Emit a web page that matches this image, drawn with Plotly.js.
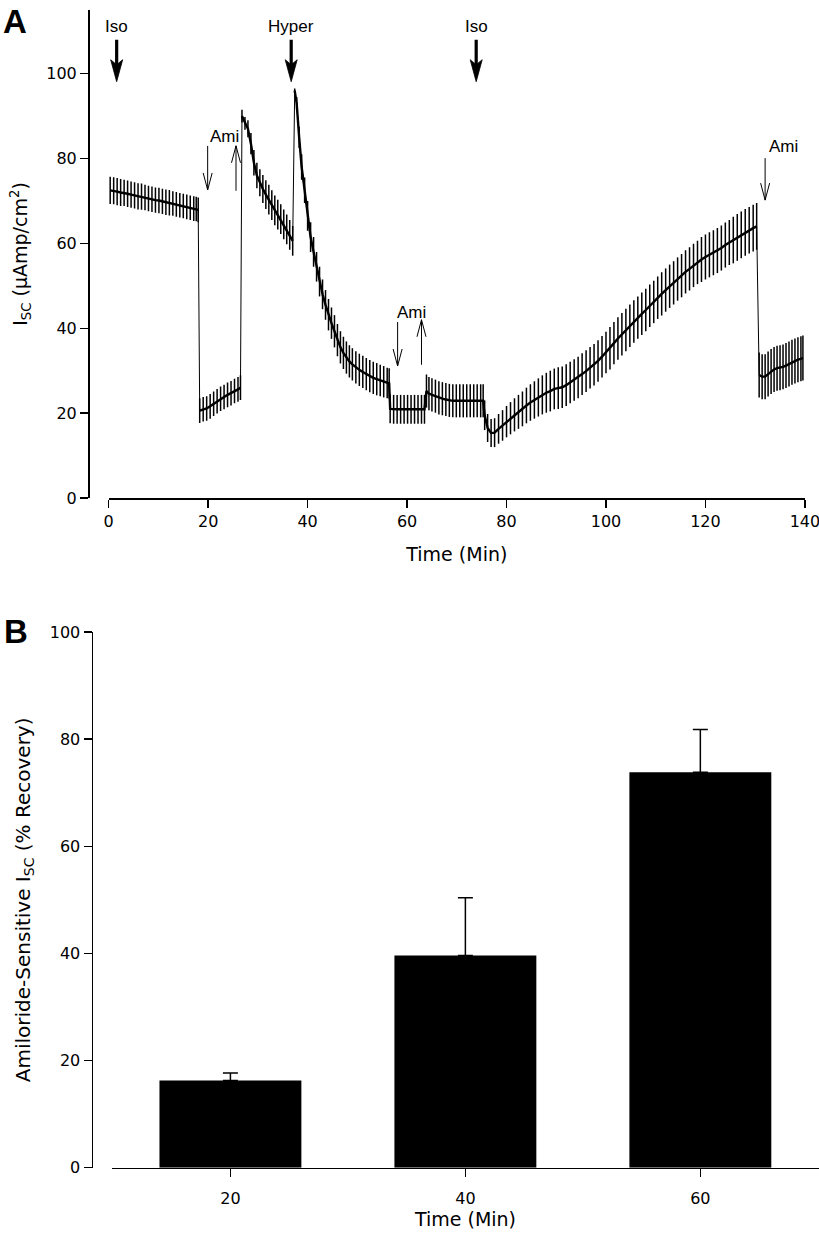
<!DOCTYPE html>
<html>
<head>
<meta charset="utf-8">
<script src="https://cdn.plot.ly/plotly-3.0.1.min.js"></script>
<style>html,body{margin:0;padding:0;background:#fff}#chart{width:819px;height:1238px}</style>
</head>
<body>
<div id="chart"></div>
<script>
// ---------- Panel A : Isc time course (mean ± SEM) ----------
const timeMin = [
  0.3,1.0,1.7,2.4,3.1,3.8,4.5,5.2,5.9,6.6,7.3,8.0,8.7,9.4,10.1,10.8,11.5,12.2,12.9,13.6,14.3,15.0,15.7,16.4,17.1,17.6,18.0,
  18.3,19.0,19.7,20.4,21.1,21.8,22.5,23.2,23.9,24.6,25.3,26.0,26.5,
  26.8,27.4,28.0,28.6,29.2,29.8,30.4,31.0,31.6,32.2,32.8,33.4,34.0,34.6,35.2,35.8,36.4,37.0,
  37.4,37.8,38.3,38.8,39.4,40.0,40.6,41.2,41.8,42.4,43.0,43.6,44.2,44.8,45.4,46.0,46.6,47.2,47.8,48.4,49.0,49.7,50.4,51.1,51.8,52.5,53.2,53.9,54.6,55.3,56.0,56.4,
  56.6,57.3,58.0,58.7,59.4,60.1,60.8,61.5,62.2,62.9,63.5,
  63.9,64.4,65.0,65.7,66.4,67.1,67.8,68.5,69.2,69.9,70.6,71.3,72.0,72.7,73.4,74.1,74.8,75.3,
  75.6,76.2,76.9,77.6,78.4,79.2,80.0,80.8,81.6,82.4,83.2,84.0,84.8,85.6,86.4,87.2,88.0,88.8,89.6,90.4,
  91.2,92.0,92.8,93.6,94.4,95.2,96.0,96.8,97.6,98.4,99.2,100.0,
  100.8,101.6,102.4,103.2,104.0,104.8,105.6,106.4,107.2,108.0,108.8,109.6,110.4,
  111.2,112.0,112.8,113.6,114.4,115.2,116.0,116.8,117.6,118.4,
  119.2,120.0,120.8,121.6,122.4,123.2,124.0,124.8,
  125.6,126.4,127.2,128.0,128.8,129.6,130.3,
  130.8,131.4,132.0,132.6,133.2,133.8,134.4,135.0,135.6,136.2,136.8,137.4,138.0,138.6,139.2,139.6
];
const iscMean = [
  72.5,72.4,72.2,72.0,71.9,71.7,71.5,71.3,71.1,71.0,70.8,70.6,70.4,70.2,70.1,69.9,69.7,69.6,69.4,69.2,69.0,68.8,68.6,68.4,68.2,68.1,67.9,
  20.6,20.9,21.1,21.6,22.2,22.8,23.4,23.8,24.3,24.7,25.2,25.6,26.0,
  90.0,88.3,87.0,83.5,79.0,76.0,74.3,72.8,71.5,70.3,69.0,67.8,66.8,65.7,64.5,63.3,62.0,60.6,
  96.0,93.0,85.0,78.0,72.5,66.5,61.5,58.0,54.5,51.0,48.0,45.5,43.2,41.2,39.3,37.2,35.5,34.2,33.1,32.2,31.5,30.8,30.2,29.7,29.2,28.7,28.3,28.0,27.7,27.4,27.1,27.0,
  21.0,20.9,20.9,20.9,20.9,20.9,20.9,20.9,20.9,20.9,20.9,
  25.2,24.6,24.3,24.0,23.6,23.4,23.2,23.0,22.9,22.9,22.9,22.9,22.9,22.9,22.9,22.9,22.9,22.9,
  19.5,16.5,15.3,15.4,16.3,17.1,18.0,18.8,19.6,20.3,21.0,21.8,22.5,23.1,23.7,24.3,24.8,25.2,25.7,25.9,
  26.1,26.6,27.2,27.8,28.4,29.2,29.9,30.7,31.4,32.3,33.3,34.3,
  35.3,36.5,37.6,38.6,39.6,40.6,41.6,42.5,43.4,44.3,45.3,46.2,47.2,
  48.1,49.0,49.9,50.7,51.6,52.4,53.3,54.0,54.8,55.5,
  56.2,56.8,57.3,57.8,58.3,58.9,59.6,60.2,
  60.8,61.4,62.0,62.6,63.1,63.6,64.0,
  29.0,28.6,28.6,29.2,29.8,30.3,30.6,30.7,30.9,31.2,31.6,32.0,32.3,32.6,32.8,33.0
];
const iscSem = [
  3.2,3.2,3.2,3.2,3.1,3.1,3.1,3.1,3.1,3.1,3.0,3.0,3.0,3.0,3.0,3.0,3.0,3.0,2.9,2.9,2.9,2.9,2.9,2.9,2.9,2.9,2.9,
  2.9,2.9,2.9,2.9,2.9,2.9,2.9,2.9,2.9,2.9,2.9,2.9,2.9,
  1.5,1.5,2.0,2.5,3.0,3.0,3.2,3.3,3.4,3.5,3.5,3.5,3.5,3.5,3.5,3.5,3.5,3.5,
  0.5,1.5,2.5,3.0,3.0,3.5,3.5,3.5,3.5,3.5,3.5,3.5,3.7,3.7,3.8,3.8,3.8,3.8,3.8,3.8,3.8,3.8,3.8,3.8,3.8,3.8,3.8,3.8,3.7,3.7,3.6,3.6,
  3.4,3.4,3.4,3.4,3.4,3.4,3.4,3.4,3.4,3.4,3.4,
  3.9,3.9,3.9,3.9,3.9,3.9,3.9,3.9,3.9,3.9,3.9,3.9,3.9,3.9,3.9,3.9,3.9,3.9,
  3.5,3.3,3.3,3.4,3.5,3.6,3.7,3.8,3.9,4.0,4.1,4.2,4.3,4.4,4.5,4.6,4.7,4.8,4.8,4.9,
  4.9,4.9,4.9,4.9,4.9,4.9,4.9,4.9,4.9,4.9,4.9,4.9,
  5.0,5.0,5.0,5.0,5.0,5.0,5.0,5.0,5.0,5.0,5.0,5.0,5.0,
  5.1,5.1,5.1,5.1,5.1,5.1,5.1,5.1,5.1,5.1,
  5.3,5.3,5.3,5.3,5.3,5.3,5.3,5.3,
  5.5,5.5,5.5,5.5,5.5,5.5,5.5,
  5.3,5.3,5.3,5.3,5.3,5.3,5.3,5.3,5.3,5.3,5.3,5.3,5.3,5.3,5.3,5.3
];
// abrupt steps that the original draws with a thin connecting line
const thinSteps = [18.15, 26.65, 37.2, 130.55];
const aTickVals = [0, 20, 40, 60, 80, 100, 120, 140];
const aYTickVals = [0, 20, 40, 60, 80, 100];

// event markers in panel A
const eventLabels = ['Iso', 'Hyper', 'Iso'];
const eventTimes = [1.6, 36.7, 73.9];
const eventTipLevel = 98.1;
const eventLabelLevel = 111.0;
const amiLabelTimes = [23.2, 60.8, 135.6];
const amiLabelLevels = [85.2, 43.7, 82.8];
const amiDownTimes = [19.9, 58.1, 132.0];
const amiDownLevels = [72.6, 31.1, 70.2];
const amiUpTimes = [25.6, 62.9];
const amiUpLevels = [83.0, 42.0];

// ---------- Panel B : amiloride-sensitive Isc recovery ----------
const barTimes = ['20', '40', '60'];
const recovery = [16.3, 39.6, 73.8];
const recoverySem = [1.4, 10.8, 8.0];

// ---------- build ----------
const W = 819, H = 1238;
const thickX = [], thickY = [];
for (let i = 0; i < timeMin.length; i++) {
  if (i > 0 && thinSteps.some(b => timeMin[i - 1] < b && b < timeMin[i])) { thickX.push(null); thickY.push(null); }
  thickX.push(timeMin[i]); thickY.push(iscMean[i]);
}

const traces = [
  { x: timeMin, y: iscMean, type: 'scatter', mode: 'lines', xaxis: 'x', yaxis: 'y',
    line: { color: '#000', width: 1 }, hoverinfo: 'skip',
    error_y: { type: 'data', array: iscSem, visible: true, color: '#000', thickness: 1.5, width: 0 } },
  { x: thickX, y: thickY, type: 'scatter', mode: 'lines', xaxis: 'x', yaxis: 'y',
    line: { color: '#000', width: 2.4 }, connectgaps: false, hoverinfo: 'skip' },
  { x: barTimes, y: recovery, type: 'bar', xaxis: 'x2', yaxis: 'y2', width: 0.604,
    marker: { color: '#000', line: { width: 0 } },
    error_y: { type: 'data', symmetric: false, array: recoverySem, arrayminus: recoverySem.map(() => 0),
               visible: true, color: '#000', thickness: 1.5, width: 7.5 } }
];

const labelFont = { family: 'Liberation Sans, Arial, sans-serif', size: 17, color: '#000' };
const ann = [];
ann.push({ xref: 'paper', yref: 'paper', x: 15.5 / W, y: 1 - 21 / H, text: '<b>A</b>', showarrow: false,
  font: { family: 'Liberation Sans, Arial, sans-serif', size: 33, color: '#000' }, xanchor: 'center', yanchor: 'middle' });
ann.push({ xref: 'paper', yref: 'paper', x: 16 / W, y: 1 - 631.5 / H, text: '<b>B</b>', showarrow: false,
  font: { family: 'Liberation Sans, Arial, sans-serif', size: 33, color: '#000' }, xanchor: 'center', yanchor: 'middle' });

eventLabels.forEach((lab, i) => {
  ann.push({ xref: 'x', yref: 'y', x: eventTimes[i], y: eventLabelLevel, text: lab, font: labelFont, showarrow: false });
});
amiLabelTimes.forEach((t, i) => {
  ann.push({ xref: 'x', yref: 'y', x: t, y: amiLabelLevels[i], text: 'Ami', font: labelFont, showarrow: false });
});

// arrows as pixel-sized path shapes anchored at the arrow tip (pixel y offsets: positive = up)
const shapes = [];
function thinArrow(t, lvl, dir, len) { // dir = -1: pointing down (tail above), +1: pointing up
  const s = dir < 0 ? 1 : -1;
  shapes.push({ type: 'path', xref: 'x', yref: 'y', xsizemode: 'pixel', ysizemode: 'pixel',
    xanchor: t, yanchor: lvl, layer: 'above',
    path: 'M0,0L0,' + (s * len) + 'M-4.5,' + (s * 17) + 'L0,0L4.5,' + (s * 17),
    line: { color: '#000', width: 1 } });
}
function boldArrow(t, lvl) { // pointing down
  shapes.push({ type: 'path', xref: 'x', yref: 'y', xsizemode: 'pixel', ysizemode: 'pixel',
    xanchor: t, yanchor: lvl, layer: 'above', path: 'M0,16L0,42',
    line: { color: '#000', width: 3.2 } });
  shapes.push({ type: 'path', xref: 'x', yref: 'y', xsizemode: 'pixel', ysizemode: 'pixel',
    xanchor: t, yanchor: lvl, layer: 'above', path: 'M0,0L-6,22L0,17L6,22Z',
    fillcolor: '#000', line: { color: '#000', width: 0.8 } });
}
eventTimes.forEach(t => boldArrow(t, eventTipLevel));
amiDownTimes.forEach((t, i) => thinArrow(t, amiDownLevels[i], -1, i === 2 ? 42 : 44));
amiUpTimes.forEach((t, i) => thinArrow(t, amiUpLevels[i], 1, 45));

const tickFont = { family: 'DejaVu Sans, sans-serif', size: 16, color: '#000' };
const titleFont = { family: 'DejaVu Sans, sans-serif', size: 19, color: '#000' };
const axCommon = { showgrid: false, zeroline: false, showline: true, linecolor: '#000', linewidth: 1.5,
  ticks: 'outside', ticklen: 8, tickwidth: 1.5, tickcolor: '#000', tickfont: tickFont, fixedrange: true,
  ticklabeloverflow: 'allow' };

const layout = {
  width: W, height: H, margin: { l: 0, r: 0, t: 0, b: 0 }, showlegend: false,
  paper_bgcolor: '#fff', plot_bgcolor: 'rgba(0,0,0,0)',
  font: { family: 'DejaVu Sans, sans-serif', size: 16, color: '#000' },
  xaxis: Object.assign({}, axCommon, { domain: [108.7 / W, 805 / W], range: [0, 140.02], anchor: 'y',
    tickmode: 'array', tickvals: aTickVals, title: { text: 'Time (Min)', font: titleFont, standoff: 18 } }),
  yaxis: Object.assign({}, axCommon, { domain: [1 - 498 / H, 1 - 10 / H], range: [0, 115], anchor: 'free',
    position: 88 / W, tickmode: 'array', tickvals: aYTickVals,
    title: { text: 'I<sub>SC</sub> (μAmp/cm<sup>2</sup>)', font: titleFont, standoff: 12 } }),
  xaxis2: Object.assign({}, axCommon, { domain: [112 / W, 1], range: [-0.504, 2.505], anchor: 'y2', type: 'category',
    ticklabelstandoff: 8, title: { text: 'Time (Min)', font: titleFont, standoff: 4 } }),
  yaxis2: Object.assign({}, axCommon, { domain: [1 - 1167.7 / H, 1 - 632 / H], range: [0, 100], anchor: 'free',
    position: 91.5 / W, dtick: 20, tick0: 0,
    title: { text: 'Amiloride-Sensitive I<sub>SC</sub> (% Recovery)',
             font: { family: 'DejaVu Sans, sans-serif', size: 20, color: '#000' }, standoff: 12 } }),
  annotations: ann,
  shapes: shapes
};

Plotly.newPlot('chart', traces, layout, { staticPlot: true, displayModeBar: false });
</script>
</body>
</html>
